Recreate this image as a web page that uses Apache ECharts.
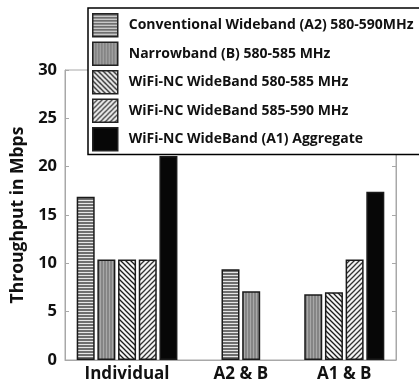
<!DOCTYPE html>
<html>
<head>
<meta charset="utf-8">
<script src="https://cdn.jsdelivr.net/npm/echarts@6/dist/echarts.min.js"></script>
<style>
  html, body { margin: 0; padding: 0; background: #fff; }
  #chart { width: 419px; height: 385px; }
</style>
</head>
<body>
<div id="chart"></div>
<script>
// groups on the x axis
var groups = ["Individual", "A2 & B", "A1 & B"];
var seriesNames = [
  "Conventional Wideband (A2) 580-590MHz",
  "Narrowband (B) 580-585 MHz",
  "WiFi-NC WideBand 580-585 MHz",
  "WiFi-NC WideBand 585-590 MHz",
  "WiFi-NC WideBand (A1) Aggregate"
];
// throughput in Mbps, null = bar not drawn in that group
var conventional = [16.9, 9.4, null];
var narrowband = [10.4, 7.1, 6.8];
var ncLow = [10.4, null, 7.0];
var ncHigh = [10.4, null, 10.4];
var aggregate = [21.1, null, 17.4];
var yTicks = [0, 5, 10, 15, 20, 25, 30];

var allValues = [conventional, narrowband, ncLow, ncHigh, aggregate];

// hatch fills
function makePattern(kind) {
  var c = document.createElement("canvas");
  var s = kind === "h" || kind === "v" ? 3 : 5;
  c.width = s; c.height = s;
  var g = c.getContext("2d");
  if (kind === "h") {
    g.fillStyle = "#6f6f6f"; g.fillRect(0, 0, s, s);
    g.fillStyle = "#e6e6e6"; g.fillRect(0, 2, s, 1);
  } else if (kind === "v") {
    g.fillStyle = "#858585"; g.fillRect(0, 0, s, s);
    g.fillStyle = "#a8a8a8"; g.fillRect(1, 0, 1, s);
  } else {
    g.fillStyle = "#f4f4f4"; g.fillRect(0, 0, s, s);
    g.strokeStyle = kind === "b" ? "#1a1a1a" : "#333";
    g.lineWidth = 1.3;
    g.beginPath();
    if (kind === "b") {
      g.moveTo(-1, -1); g.lineTo(s + 1, s + 1);
      g.moveTo(-1, s - 1); g.lineTo(1, s + 1);
      g.moveTo(s - 1, -1); g.lineTo(s + 1, 1);
    } else {
      g.moveTo(-1, s + 1); g.lineTo(s + 1, -1);
      g.moveTo(-1, 1); g.lineTo(1, -1);
      g.moveTo(s - 1, s + 1); g.lineTo(s + 1, s - 1);
    }
    g.stroke();
  }
  return { image: c, repeat: "repeat" };
}
var fills = [makePattern("h"), makePattern("v"), makePattern("b"), makePattern("f"), "#070707"];

// slot layout: each bar takes 2 slots, groups separated by a gap
var startSlot = 2, gapSlots = 6;
var slotCount = 33;
var xSlots = [];
for (var i = 0; i < slotCount; i++) xSlots.push("");
var seriesData = allValues.map(function () {
  var arr = [];
  for (var i = 0; i < slotCount; i++) arr.push("-");
  return arr;
});
var slot = startSlot;
for (var gi = 0; gi < groups.length; gi++) {
  var first = slot, n = 0;
  for (var si = 0; si < allValues.length; si++) {
    var v = allValues[si][gi];
    if (v === null) continue;
    seriesData[si][slot] = v;
    slot += 2; n++;
  }
  xSlots[first + (n - 1)] = groups[gi];
  slot = slot - 2 + gapSlots;
}

var myChart = echarts.init(document.getElementById("chart"));
var font = "Open Sans";
myChart.setOption({
  animation: false,
  grid: {
    left: 65,
    right: 23,
    top: 70,
    bottom: 25,
    show: true,
    borderColor: "#a8a8a8",
    borderWidth: 1
  },
  legend: {
    orient: "vertical",
    left: 88,
    top: 8,
    icon: "rect",
    itemWidth: 25,
    itemHeight: 23,
    itemGap: 4,
    padding: [5, 80, 3, 4],
    backgroundColor: "#fff",
    borderColor: "#000",
    borderWidth: 1.5,
    z: 10,
    data: seriesNames,
    textStyle: {
      fontFamily: font,
      fontWeight: "bold",
      fontSize: 14,
      color: "#111",
      padding: [0, 0, 0, 6]
    },
    itemStyle: { borderColor: "#222", borderWidth: 1.5 }
  },
  xAxis: {
    type: "category",
    data: xSlots,
    boundaryGap: false,
    axisLine: { lineStyle: { color: "#a8a8a8" } },
    axisTick: { show: false },
    axisLabel: {
      interval: 0,
      margin: 6,
      fontFamily: font,
      fontWeight: "bold",
      fontSize: 17,
      color: "#111"
    },
    splitLine: { show: false }
  },
  yAxis: [
    {
      type: "value",
      min: 0,
      max: 30,
      interval: 5,
      name: "Throughput in Mbps",
      nameLocation: "middle",
      nameGap: 36,
      nameTextStyle: {
        fontFamily: font,
        fontWeight: "bold",
        fontSize: 17.5,
        color: "#111"
      },
      axisLine: { show: true, lineStyle: { color: "#a8a8a8" } },
      axisTick: { show: true, inside: true, length: 4, lineStyle: { color: "#a8a8a8" } },
      axisLabel: {
        margin: 8,
        fontFamily: font,
        fontWeight: "bold",
        fontSize: 16.5,
        color: "#111",
        formatter: function (v) { return yTicks.indexOf(v) >= 0 ? String(v) : ""; }
      },
      splitLine: { show: false }
    },
    {
      type: "value",
      position: "right",
      min: 0,
      max: 30,
      interval: 5,
      axisLine: { show: true, lineStyle: { color: "#a8a8a8" } },
      axisTick: { show: true, inside: true, length: 4, lineStyle: { color: "#a8a8a8" } },
      axisLabel: { show: false },
      splitLine: { show: false }
    }
  ],
  series: seriesNames.map(function (name, si) {
    return {
      name: name,
      type: "bar",
      stack: "slot",
      barWidth: 18,
      data: seriesData[si],
      itemStyle: {
        color: fills[si],
        borderColor: "#1a1a1a",
        borderWidth: 1.5
      }
    };
  })
});
</script>
</body>
</html>
